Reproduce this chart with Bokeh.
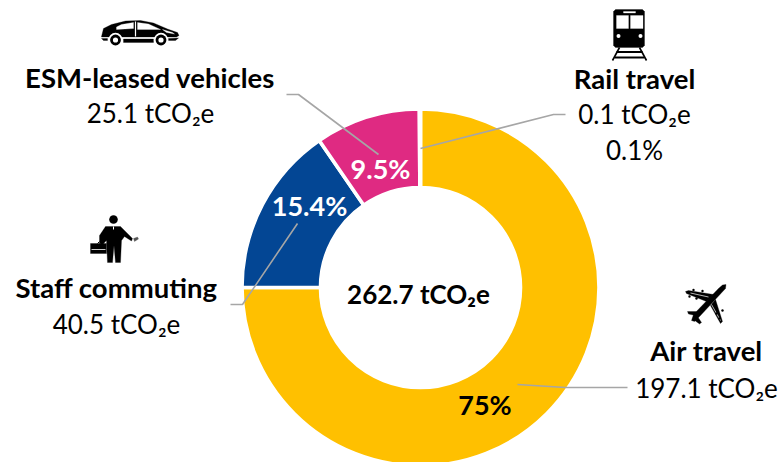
from math import pi
import numpy as np
from bokeh.plotting import figure
from bokeh.models import Range1d
from bokeh.core.properties import value
from bokeh.embed import file_html
from bokeh.resources import INLINE

categories = ["Air travel", "Staff commuting", "ESM-leased vehicles", "Rail travel"]
emissions = [197.1, 40.5, 25.1, 0.1]
shares = [75.0, 15.4, 9.5, 0.1]
amount_labels = ["197.1 tCO₂e", "40.5 tCO₂e", "25.1 tCO₂e", "0.1 tCO₂e"]
share_labels = ["75%", "15.4%", "9.5%", "0.1%"]
colors = ["#FFC000", "#034694", "#DF2A82", "#DF2A82"]
total_label = "262.7 tCO₂e"

W, H = 779, 462
FONT = "Lato"
GREY = "#A6A6A6"

def Y(v):
    return H - np.asarray(v, dtype=float)

p = figure(width=W, height=H, x_range=Range1d(0, W), y_range=Range1d(0, H),
           output_backend="svg", toolbar_location=None, min_border=0,
           x_axis_location=None, y_axis_location=None, outline_line_color=None)
p.grid.visible = False
p.background_fill_color = "white"
p.border_fill_color = "white"

# donut, clockwise from twelve o'clock
cx, cy, r_in, r_out = 420, 287, 100, 178.5
cum = np.cumsum([0] + shares) / sum(shares)
starts = pi / 2 - 2 * pi * cum[1:]
ends = pi / 2 - 2 * pi * cum[:-1]
p.annular_wedge([cx] * 4, Y([cy] * 4), r_in, r_out, starts, ends, fill_color=colors,
                line_color="white", line_width=3.6)

# leader lines
def leader(xs, ys):
    p.line(xs, Y(ys), line_color=GREY, line_width=1.6)

leader([286, 298, 378], [94, 94, 154])
leader([420, 553, 565], [148, 114, 114])
leader([297, 242, 230], [223, 304, 304])
leader([517, 565, 627], [384, 387, 387])

def label(x, y, s, size=26, bold=False, color="black"):
    p.text([x], Y([y]), text=[s], text_color=color, text_font=value(FONT),
           text_font_size=f"{size}px", text_font_style="bold" if bold else "normal",
           text_align="center", text_baseline="middle")

label(149.5, 76.5, categories[2], size=27.5, bold=True)
label(150, 112, amount_labels[2])
label(634, 77.5, categories[3], size=27.5, bold=True)
label(634, 113, amount_labels[3])
label(634, 149, share_labels[3])
label(116, 286.5, categories[1], size=27.5, bold=True)
label(116, 323, amount_labels[1])
label(706, 349.5, categories[0], size=27.5, bold=True)
label(706, 387, amount_labels[0])
label(418, 293.5, total_label, bold=True)
label(484.5, 403.5, share_labels[0], size=27, bold=True)
label(309, 205, share_labels[1], size=27, bold=True, color="white")
label(380, 168, share_labels[2], size=27, bold=True, color="white")

def poly(pts, color="black"):
    a = np.array(pts, dtype=float)
    p.patch(a[:, 0], Y(a[:, 1]), fill_color=color, line_color=color, line_width=0.3)

def dot(x, y, r, color="black"):
    p.circle([x], Y([y]), radius=r, fill_color=color, line_color=None)

def seg(xs, ys, w, color="black"):
    p.line(xs, Y(ys), line_color=color, line_width=w)

# car icon
poly([(101, 36), (103, 28), (111, 24), (125, 20.5), (140, 20), (153, 22.5), (167, 28.5), (177, 32),
      (178.5, 35), (176, 36.5), (101, 36.5)])
poly([(123, 38.5), (153, 38.5), (153, 42), (123, 42)])
poly([(101, 38), (107, 38), (107, 40), (103, 40)])
poly([(168, 38), (178, 37.5), (175, 40), (168, 40)])
for cxx in (115, 160.5):
    dot(cxx, 39.5, 7.2, "white")
    dot(cxx, 39.5, 5.4)
    dot(cxx, 39.5, 2.6, "white")
poly([(116, 26.5), (121, 24), (133, 22), (133, 28), (116, 29)], "white")
poly([(137, 22), (148, 23.5), (160, 29), (137, 29)], "white")
poly([(162, 29), (172, 32), (174, 33.5), (166, 32)], "white")
seg([135, 135], [21, 36], 1.2, "white")

# train icon
poly([(615, 9), (642, 9), (644, 11), (644, 45), (642, 47), (615, 47), (613, 45), (613, 11)])
poly([(616, 15), (628, 15), (628, 28), (616, 28)], "white")
poly([(630, 15), (642.5, 15), (642.5, 28), (630, 28)], "white")
poly([(623, 11), (635, 11), (635, 12.5), (623, 12.5)], "white")
dot(618, 35.5, 2, "white")
dot(640, 35.5, 2, "white")
seg([612, 619], [60, 47], 1.6)
seg([646, 639], [60, 47], 1.6)
seg([616, 642], [51.5, 51.5], 2)
seg([614, 644], [57, 57], 2)

# commuter icon
dot(113, 219, 4.3)
poly([(105, 226), (120, 226), (125, 231), (132, 238), (131, 240.5), (124, 236),
      (121, 240), (120, 262), (115, 262), (113.5, 245), (112, 262), (107, 262), (106, 240), (103, 243),
      (103, 244), (99, 243), (99, 235)])
poly([(133, 238), (137, 236.5), (138, 238.5), (134, 241)], "#555555")
poly([(90, 243), (106, 243), (106, 253), (90, 253)])
seg([91, 105], [249, 249], 0.8, "white")
seg([97, 99], [243, 241], 1)
seg([113, 113], [226, 229], 1, "white")

# aeroplane icon
poly([(722, 284.5), (725.5, 284), (725, 288), (700, 315), (694, 321), (691, 320), (693, 314), (718, 288)])
poly([(706, 301), (686, 293), (685, 291), (688, 290), (713, 294)])
poly([(710, 305), (720, 323), (722, 321), (715, 299)])
poly([(696, 311), (687, 311), (688, 313.5), (695, 315)])
poly([(697, 316), (701, 322), (699, 323.5), (693, 319)])
seg([690, 708], [292.5, 296.5], 0.7, "white")
seg([711, 720], [304, 320], 0.7, "white")
for ex, ey in ((693, 289.5), (702, 290.5), (689, 296), (696, 298), (716, 313), (722, 310), (719, 318)):
    dot(ex, ey, 1.2)

open("out.html", "w").write(file_html(p, INLINE))
